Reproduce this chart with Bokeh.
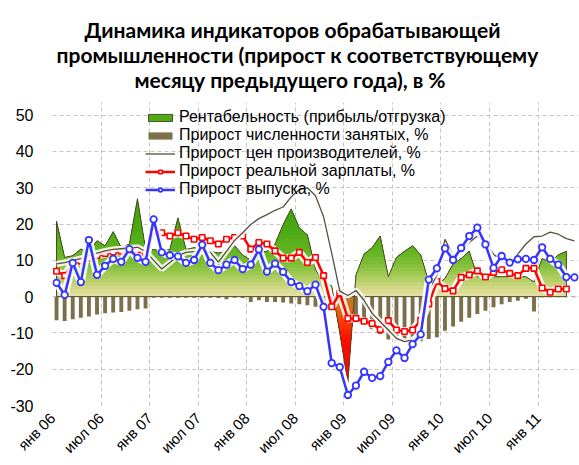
import numpy as np
from bokeh.plotting import figure
from bokeh.models import FixedTicker, Legend, LegendItem, Title, Range1d
from bokeh.embed import file_html
from bokeh.resources import INLINE

# ---------------- data ----------------
x_tick_pos = [0, 6, 12, 18, 24, 30, 36, 42, 48, 54, 60]
x_tick_labels = ["янв 06", "июл 06", "янв 07", "июл 07", "янв 08", "июл 08",
                 "янв 09", "июл 09", "янв 10", "июл 10", "янв 11"]
y_ticks = [-30, -20, -10, 0, 10, 20, 30, 40, 50]
y_tick_labels = ["-30", "-20", "-10", "0", "10", "20", "30", "40", "50"]

profitability = [20.8, 10.8, 11.3, 13.1, 12.5, 15.4, 14.0, 17.9, 13.5, 14.5, 27.0, 13.1,
                 13.0, 12.5, 13.0, 21.7, 13.0, 13.5, 13.0, 12.5, 12.0, 12.5, 14.0, 11.5,
                 10.0, 12.0, 12.5, 14.5, 19.9, 24.2, 19.0, 17.0, 7.5, 4.0, 3.0, -10.0,
                 -23.7, 6.0, 11.7, 13.5, 16.7, 5.5, 10.8, 12.5, 14.0, 11.5, 4.0, 3.0,
                 5.0, 9.0, 10.5, 12.5, 5.5, 5.5, 5.5, 5.5, 5.5, 5.5, 5.5, 4.0,
                 10.5, 9.5, 11.5, 12.5]
employment = [-6.5, -6.7, -6.2, -5.8, -5.5, -4.9, -4.6, -4.4, -4.2, -3.9, -3.5, -3.3,
              -0.3, -0.3, -0.3, -0.3, -0.3, -0.3, -0.3, -0.3, -0.4, -0.7, -0.3, -0.4,
              -1.5, -1.0, -1.5, -1.5, -1.6, -1.9, -2.1, -2.4, -2.8, -3.2, -3.6, -4.0,
              -4.5, -5.5, -7.5, -9.0, -10.3, -11.8, -12.3, -12.0, -11.8, -12.3, -11.7, -11.2,
              -9.4, -8.2, -6.9, -5.8, -4.8, -3.9, -2.9, -2.1, -1.5, -1.1, -0.6, -4.1,
              -0.2, -0.2, -0.2, -0.2, -0.2]
prices = [9.0, 9.4, 10.0, 10.5, 11.3, 12.0, 12.6, 13.0, 13.2, 13.4, 13.6, 12.5,
          10.0, 7.6, 9.4, 11.3, 12.2, 12.4, 12.6, 12.2, 9.5, 12.5, 15.5, 17.6,
          19.9, 21.5, 22.6, 23.8, 24.7, 27.5, 29.5, 30.0, 27.8, 22.0, 12.0, 1.5,
          0.3, 1.7, -1.0, -4.6, -6.9, -9.2, -11.5, -12.4, -11.9, -10.1, 1.7, 6.0,
          15.8, 11.3, 12.6, 14.9, 16.7, 14.9, 11.7, 9.9, 8.7, 11.7, 14.5, 16.5,
          16.7, 17.8, 17.2, 16.0, 15.4]
wages = [7.0, 5.8, 9.3, 9.8, 10.6, 11.3, 11.9, 12.3, 12.5, 12.7, 12.9, 11.8,
         18.0, 17.6, 16.7, 17.6, 16.7, 15.8, 16.3, 15.4, 14.5, 15.8, 16.3, 16.7,
         13.1, 14.9, 14.5, 12.6, 10.6, 10.6, 12.2, 9.4, 10.8, 5.8, -2.8, 1.0,
         -6.0, -6.0, -6.8, -7.4, -9.1, -6.6, -9.2, -9.6, -9.2, -6.5, -2.0, 4.2,
         2.2, 1.6, 5.3, 6.0, 7.1, 5.4, 6.7, 7.4, 6.4, 5.8, 7.8, 7.8,
         2.4, 1.2, 2.1, 2.1]
output = [3.8, 0.5, 9.3, 4.0, 15.6, 6.0, 8.5, 10.4, 9.6, 13.1, 10.7, 9.6,
          21.3, 12.2, 11.4, 11.1, 9.3, 10.1, 14.3, 9.3, 7.3, 8.8, 10.1, 7.6,
          8.8, 13.0, 6.9, 9.1, 6.8, 4.0, 2.9, 1.5, 3.3, -2.8, -18.3, -19.4,
          -27.1, -24.5, -20.7, -22.4, -21.9, -18.0, -14.8, -16.9, -13.1, -10.4, 4.7, 7.8,
          13.3, 10.1, 13.4, 16.7, 19.0, 14.4, 7.9, 11.2, 9.4, 10.3, 10.4, 10.1,
          13.6, 10.4, 8.8, 5.4, 5.3]

n_months = 65

def centres(series):
    # month index, centred inside each month (months since Jan 2006)
    return np.arange(len(series)) + 0.5

# ---------------- figure ----------------
FONT = "Liberation Sans"
p = figure(width=579, height=465, output_backend="svg", toolbar_location=None,
           x_range=Range1d(0, n_months), y_range=Range1d(-30, 53.5),
           min_border_left=52, min_border_right=1, min_border_top=102, min_border_bottom=58)
p.outline_line_color = None
p.background_fill_color = "white"
p.border_fill_color = "white"

for ax in (p.xaxis[0], p.yaxis[0]):
    ax.axis_line_color = None
    ax.major_tick_line_color = None
    ax.minor_tick_line_color = None
    ax.major_label_text_font = FONT
    ax.major_label_text_color = "black"

p.xaxis.ticker = FixedTicker(ticks=x_tick_pos)
p.xaxis.major_label_overrides = dict(zip(x_tick_pos, x_tick_labels))
p.xaxis.major_label_orientation = np.pi / 4
p.xaxis.major_label_text_font_size = "15px"
p.xaxis.major_label_standoff = 4

p.yaxis.ticker = FixedTicker(ticks=y_ticks)
p.yaxis.major_label_overrides = dict(zip(y_ticks, y_tick_labels))
p.yaxis.major_label_text_font_size = "16px"
p.yaxis.major_label_standoff = 13

for g in (p.xgrid[0], p.ygrid[0]):
    g.grid_line_color = "#c4c4c4"
    g.grid_line_dash = "4 3"
    g.grid_line_width = 1
p.xgrid[0].bounds = (y_ticks[0], y_ticks[-1])

# ---------------- employment bars ----------------
xe = centres(employment)
bars = p.vbar(x=xe, top=employment, bottom=0, width=0.48,
              fill_color="#7b7049", line_color=None)

# ---------------- profitability gradient area ----------------
xr = centres(profitability)
yr = np.array(profitability, dtype=float)
pos_levels = np.arange(1, 29)
neg_levels = np.arange(-1, -26, -1)
all_levels = np.concatenate([[0], pos_levels, neg_levels])
cross_x = []
for i in range(len(yr) - 1):
    a, b = yr[i], yr[i + 1]
    for L in all_levels:
        if (a - L) * (b - L) < 0:
            cross_x.append(xr[i] + (L - a) / (b - a))
xs_all = np.unique(np.concatenate([xr, np.array(cross_x)]))
ys_all = np.interp(xs_all, xr, yr)

pos_stops = [(0, (231, 225, 168)), (2, (214, 218, 140)), (5, (176, 206, 98)),
             (8, (136, 194, 62)), (12, (100, 181, 36)), (18, (76, 170, 20)),
             (28, (56, 158, 10))]
neg_stops = [(0, (176, 128, 40)), (-3, (220, 110, 20)), (-7, (250, 60, 0)),
             (-12, (255, 12, 0)), (-26, (255, 0, 0))]

def interp_color(v, stops):
    vs = [s[0] for s in stops]
    cs = np.array([s[1] for s in stops], dtype=float)
    if vs[0] > vs[-1]:
        vs = vs[::-1]
        cs = cs[::-1]
    rgb = [int(round(np.interp(v, vs, cs[:, k]))) for k in range(3)]
    return "#%02x%02x%02x" % tuple(rgb)

band_renderers = {}
for hi in pos_levels[::-1]:
    band_renderers[int(hi)] = p.varea(x=xs_all, y1=0, y2=np.clip(ys_all, 0, hi),
                                      fill_color=interp_color(hi - 0.5, pos_stops), fill_alpha=1)
for lo in neg_levels[::-1]:
    band_renderers[int(lo)] = p.varea(x=xs_all, y1=np.clip(ys_all, lo, 0), y2=0,
                                      fill_color=interp_color(lo + 0.5, neg_stops), fill_alpha=1)

outline_x = np.concatenate([[xr[0]], xr, [xr[-1]]])
outline_y = np.concatenate([[0], yr, [0]])
area_outline = p.patch(outline_x, outline_y, fill_alpha=0, line_color="#4d4a25", line_width=1)

# ---------------- wages (red) ----------------
xw = centres(wages)
p.line(xw, wages, line_color="white", line_width=8, line_alpha=0.85)
w_line = p.line(xw, wages, line_color="#ff0000", line_width=2.5)
w_pts = p.scatter(xw, wages, marker="square", size=5.5, fill_color="white",
                  line_color="#ff0000", line_width=1.6)

# ---------------- prices (gray) ----------------
xp = centres(prices)
p.line(xp, prices, line_color="white", line_width=6, line_alpha=0.85)
pr_line = p.line(xp, prices, line_color="#56513c", line_width=1.3)

# ---------------- output (blue) ----------------
xo = centres(output)
p.line(xo, output, line_color="white", line_width=8, line_alpha=0.85)
o_line = p.line(xo, output, line_color="#3535ff", line_width=2.5)
o_pts = p.scatter(xo, output, marker="circle", size=6.5, fill_color="white",
                  line_color="#3535ff", line_width=1.8)

# ---------------- legend ----------------
legend = Legend(items=[
    LegendItem(label="Рентабельность (прибыль/отгрузка)",
               renderers=[band_renderers[18], area_outline]),
    LegendItem(label="Прирост численности занятых, %", renderers=[bars]),
    LegendItem(label="Прирост цен производителей, %", renderers=[pr_line]),
    LegendItem(label="Прирост реальной зарплаты, %", renderers=[w_line, w_pts]),
    LegendItem(label="Прирост выпуска, %", renderers=[o_line, o_pts]),
], location=(93, 207))
legend.background_fill_alpha = 0
legend.border_line_color = None
legend.label_text_font = FONT
legend.label_text_font_size = "16px"
legend.label_text_color = "black"
legend.glyph_width = 30
legend.glyph_height = 9
legend.label_height = 18
legend.label_standoff = 4
legend.spacing = 0
legend.padding = 0
legend.margin = 0
p.add_layout(legend)

# ---------------- title ----------------
title_lines = ["Динамика индикаторов обрабатывающей",
               "промышленности (прирост к соответствующему",
               "месяцу предыдущего года), в %"]
title_offsets = [32, 4, 82]
p.add_layout(Title(text=" ", text_font_size="1px", standoff=9), "above")
for line, off in reversed(list(zip(title_lines, title_offsets))):
    t = Title(text=line, align="left", text_font="Lato", text_font_style="bold",
              text_font_size="21px", text_color="black", offset=off, standoff=-2)
    p.add_layout(t, "above")

open("out.html", "w").write(file_html(p, INLINE))
